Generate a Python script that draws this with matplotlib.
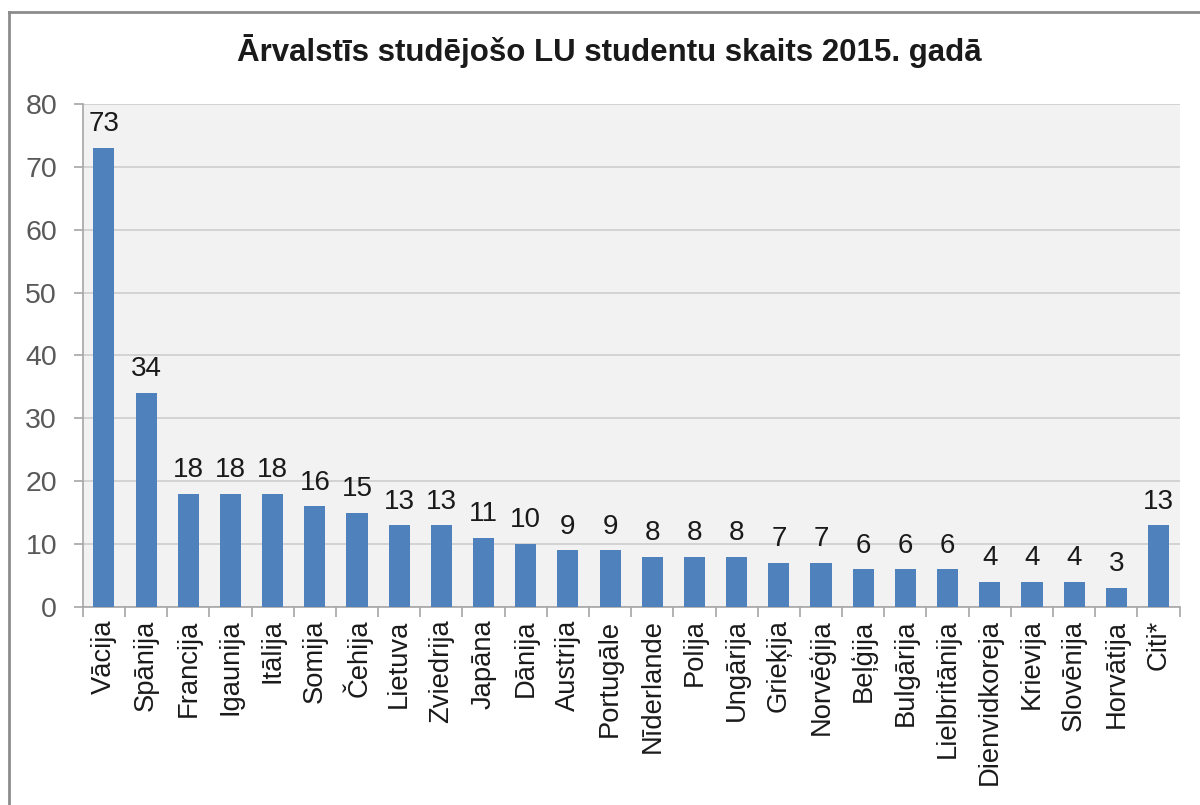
import numpy as np
import matplotlib
matplotlib.use('Agg')
import matplotlib.pyplot as plt
from matplotlib.lines import Line2D

# data
countries = ["Vācija", "Spānija", "Francija", "Igaunija", "Itālija", "Somija",
             "Čehija", "Lietuva", "Zviedrija", "Japāna", "Dānija", "Austrija",
             "Portugāle", "Nīderlande", "Polija", "Ungārija", "Grieķija",
             "Norvēģija", "Beļģija", "Bulgārija", "Lielbritānija",
             "Dienvidkoreja", "Krievija", "Slovēnija", "Horvātija", "Citi*"]
students = [73, 34, 18, 18, 18, 16, 15, 13, 13, 11, 10, 9, 9, 8, 8, 8, 7, 7,
            6, 6, 6, 4, 4, 4, 3, 13]
yticks = [0, 10, 20, 30, 40, 50, 60, 70, 80]

plt.rcParams['font.family'] = ['Liberation Sans', 'DejaVu Sans']

fig = plt.figure(figsize=(12, 8.05), dpi=100)
ax = fig.add_axes([0.069, 0.246, 0.914, 0.625])

x = np.arange(len(countries))
ax.bar(x, students, width=0.5, color='#4F81BD', zorder=3)

# value labels sit ~17px above each bar
for xi, v in zip(x, students):
    ax.annotate(str(v), (xi, v), xytext=(0, 12), textcoords='offset points',
                ha='center', va='baseline', fontsize=20, color='#1a1a1a')

ax.set_facecolor('#F2F2F2')
ax.set_xlim(-0.5, len(countries) - 0.5)
ax.set_ylim(0, 80)
ax.set_yticks(yticks)
ax.yaxis.grid(True, color='#D0D0D0', linewidth=1.3, zorder=0)
ax.tick_params(axis='y', labelsize=20.5, labelcolor='#595959', color='#A6A6A6',
               length=6.5, width=1.2, pad=12)

# category labels centered, tick marks on category boundaries
ax.set_xticks(x)
ax.set_xticklabels(countries, rotation=90, fontsize=19.7, color='#1a1a1a')
ax.tick_params(axis='x', length=0, pad=9)
ax.set_xticks(np.arange(len(countries) + 1) - 0.5, minor=True)
ax.tick_params(axis='x', which='minor', length=7, width=1.2, color='#A6A6A6')

for side in ['top', 'right']:
    ax.spines[side].set_visible(False)
for side in ['left', 'bottom']:
    ax.spines[side].set_color('#A6A6A6')
    ax.spines[side].set_linewidth(1.2)

fig.text(0.508, 0.936, "Ārvalstīs studējošo LU studentu skaits 2015. gadā",
         ha='center', va='center', fontsize=22.5, fontweight='bold',
         color='#1a1a1a')

# outer chart frame
fig.add_artist(Line2D([9 / 1200, 9 / 1200], [0, 1 - 12 / 805],
                      transform=fig.transFigure, color='#8C8C8C', lw=2))
fig.add_artist(Line2D([9 / 1200, 1], [1 - 12 / 805, 1 - 12 / 805],
                      transform=fig.transFigure, color='#8C8C8C', lw=2))

fig.savefig('out.png', dpi=100)
